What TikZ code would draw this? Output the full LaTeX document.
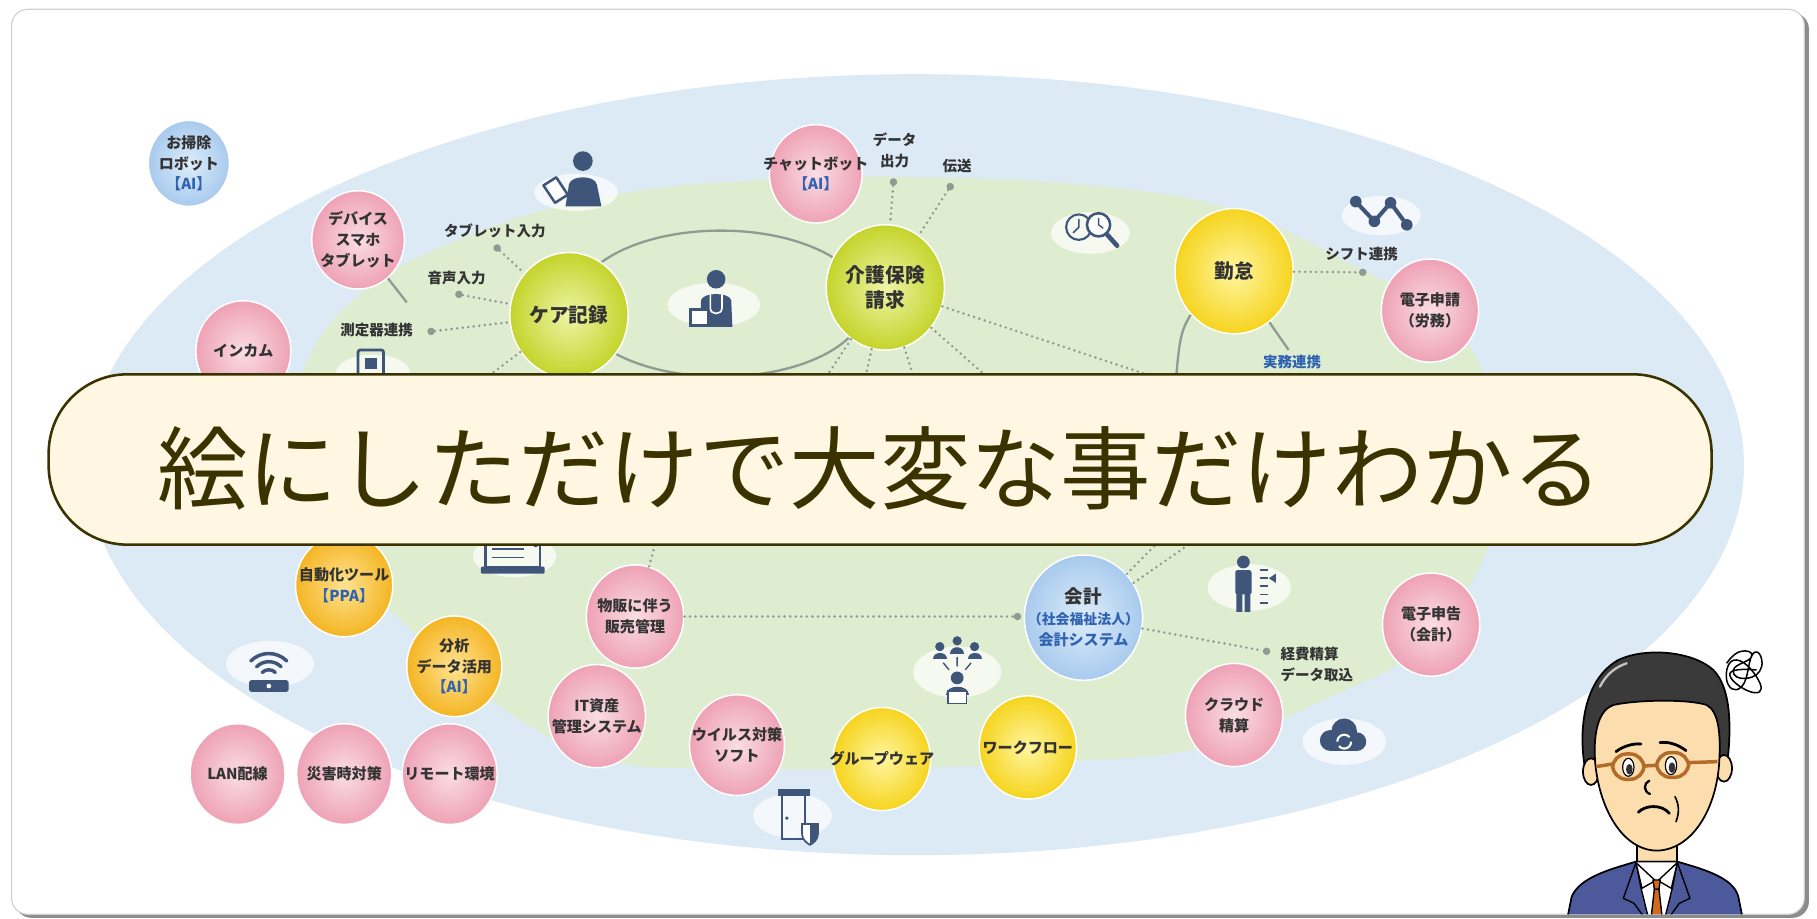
\documentclass[tikz,border=0pt]{standalone}
\usepackage{fontspec}
\setmainfont{Noto Sans CJK JP}
\usetikzlibrary{shapes.geometric}

\definecolor{bluefill}{HTML}{DCEAF6}
\definecolor{greenfill}{HTML}{DEEDD0}
\definecolor{iconc}{HTML}{3F557A}
\definecolor{linec}{HTML}{8E9C94}
\definecolor{dotc}{HTML}{8E9A92}
\definecolor{txt}{HTML}{333333}
\definecolor{aiblue}{HTML}{2F62B0}
\definecolor{pinkin}{HTML}{FADDE4}
\definecolor{pinkout}{HTML}{EEA2B5}
\definecolor{ygin}{HTML}{EEF4A6}
\definecolor{ygout}{HTML}{C4D42B}
\definecolor{yin}{HTML}{FFF6A0}
\definecolor{yout}{HTML}{F6D41E}
\definecolor{oin}{HTML}{FFE291}
\definecolor{oout}{HTML}{F4B523}
\definecolor{bin}{HTML}{DEEDFA}
\definecolor{bout}{HTML}{A8CAEE}
\definecolor{bannerfill}{HTML}{FFF7E2}
\definecolor{bannerline}{HTML}{3A3300}
\definecolor{skin}{HTML}{FCDDAE}
\definecolor{haircol}{HTML}{3A3A3A}
\definecolor{suitcol}{HTML}{4C5A9C}
\definecolor{tiecol}{HTML}{D2691E}
\definecolor{glasscol}{HTML}{B36B2A}

\tikzset{
  bub/.style={ellipse, inner sep=0pt, minimum width=#1*2pt, minimum height=#1*2.12pt,
    draw=white, line width=1.3pt},
  btext/.style={align=center, text=txt, inner sep=0pt,
    font=\fontsize{13}{18}\selectfont\bfseries},
  bigtext/.style={font=\fontsize{17}{22}\selectfont\bfseries},
  fpink/.style={inner color=pinkin, outer color=pinkout},
  fyg/.style={inner color=ygin, outer color=ygout},
  fyel/.style={inner color=yin, outer color=yout},
  forg/.style={inner color=oin, outer color=oout},
  fblue/.style={inner color=bin, outer color=bout},
  lbl/.style={text=txt, align=center, inner sep=1pt,
    font=\fontsize{12.5}{18}\selectfont\bfseries},
  dotnode/.style={circle, fill=dotc, minimum size=6.5pt, inner sep=0pt},
  dotline/.style={draw=dotc, line width=2.4pt, line cap=round, dash pattern=on 0pt off 4.8pt},
  solidline/.style={draw=linec, line width=2pt},
  halo/.style={fill=white, opacity=0.7},
  manline/.style={draw=black, line width=1.5pt, line join=round},
}

\begin{document}
\begin{tikzpicture}[x=1pt, y=-1pt]
\useasboundingbox (0,0) rectangle (1568,793);

% card with drop shadow
\fill[black!45, rounded corners=14pt] (13,11) rectangle (1561,792);
\fill[white, rounded corners=14pt] (10,8) rectangle (1557,789);
\draw[black!18, line width=1pt, rounded corners=14pt] (10,8) rectangle (1557,789);

\begin{scope}
\clip[rounded corners=14pt] (10,8) rectangle (1557,789);

% outer and inner zones
\fill[bluefill] (790,401) ellipse (715 and 337);
\fill[greenfill] plot[smooth cycle, tension=0.7] coordinates {
  (800,153) (940,160) (1060,180) (1170,230) (1255,282) (1290,360) (1290,450)
  (1262,515) (1225,562) (1140,605) (1040,645) (900,658) (760,663) (640,663)
  (530,658) (455,625) (390,575) (330,520) (275,465) (252,400) (262,320)
  (310,255) (400,205) (520,170) (660,155)};

% ring joining care records and billing
\draw[solidline] (622,262) ellipse (125 and 63);

% ---- icons ----
% tablet user
\fill[halo] (497,166) ellipse (36 and 16);
\fill[iconc] (503,139) circle (8.5);
\fill[iconc] (488,178) -- (491,159) .. controls (493,151) and (513,151) .. (515,159) -- (519,178) -- cycle;
\filldraw[fill=white, draw=iconc, line width=2.2pt, line join=round] (469,160) -- (480,153) -- (490,168) -- (479,175) -- cycle;
% doctor
\fill[halo] (616,263) ellipse (40 and 19);
\fill[iconc] (618,241) circle (8);
\fill[iconc] (604,282) -- (605,259) .. controls (607,252) and (629,252) .. (631,259) -- (632,282) -- cycle;
\draw[white, line width=1.4pt] (613,254) -- (613,266) .. controls (613,272) and (623,272) .. (623,266) -- (623,254);
\filldraw[fill=white, draw=iconc, line width=2pt] (596,267) rectangle (611,281);
% clock and magnifier
\fill[halo] (941,201) ellipse (34 and 18);
\draw[iconc, line width=1.8pt] (931,196) circle (11);
\draw[iconc, line width=1.4pt] (931,189) -- (931,196) -- (926,201);
\filldraw[fill=white, draw=iconc, line width=2.2pt] (948,194) circle (10);
\draw[iconc, line width=1.2pt] (948,188) -- (948,194) -- (952,197);
\draw[iconc, line width=4pt, line cap=round] (955,202) -- (964,212);
% network
\fill[halo] (1192,186) ellipse (34 and 17);
\draw[iconc, line width=3.5pt, line join=round] (1170,174) -- (1186,191) -- (1200,175) -- (1214,194);
\foreach \p in {(1170,174),(1186,191),(1200,175),(1214,194)} \fill[iconc] \p circle (5);
% measuring device
\fill[halo] (322,322) ellipse (32 and 16);
\draw[iconc, line width=2.4pt, rounded corners=2pt] (309,302) rectangle (331,335);
\fill[iconc] (315,309) rectangle (325,318);
% monitor
\fill[halo] (444,480) ellipse (36 and 18);
\draw[iconc, line width=2pt] (419,464) rectangle (466,489);
\draw[iconc, line width=1.5pt] (425,474) -- (452,474) (425,481) -- (452,481);
\fill[iconc, rounded corners=1pt] (415,489) rectangle (470,495);
\draw[iconc, line width=3pt, line cap=round] (462,471) -- (471,462);
% wifi router
\fill[halo] (233,573) ellipse (38 and 20);
\draw[iconc, line width=3pt, line cap=round] (226.3,580.3) arc[start angle=225, end angle=315, radius=8];
\draw[iconc, line width=3pt, line cap=round] (221.4,575.4) arc[start angle=225, end angle=315, radius=15];
\draw[iconc, line width=3pt, line cap=round] (216.4,570.4) arc[start angle=225, end angle=315, radius=22];
\fill[iconc, rounded corners=1.5pt] (215,587) rectangle (249,597);
\fill[white] (232,592) circle (2);
% door and shield
\fill[halo] (684,704) ellipse (34 and 19);
\draw[iconc, line width=1.8pt] (675,686) rectangle (695,724);
\fill[iconc] (671,681) rectangle (699,687);
\fill[iconc] (679,706) circle (1.6);
\filldraw[fill=white, draw=iconc, line width=1.5pt] (692,711) -- (706,711) -- (706,719) .. controls (706,725) and (701,728) .. (699,729) .. controls (697,728) and (692,725) .. (692,719) -- cycle;
\fill[iconc] (699,711) -- (706,711) -- (706,719) .. controls (706,725) and (701,728) .. (699,729) -- cycle;
% people network
\fill[halo] (826,580) ellipse (38 and 22);
\fill[iconc] (811,558) circle (4) (826,553) circle (4) (841,558) circle (4);
\fill[iconc] (805,569) .. controls (805,562) and (817,562) .. (817,569) -- cycle;
\fill[iconc] (820,564) .. controls (820,557) and (832,557) .. (832,564) -- cycle;
\fill[iconc] (835,569) .. controls (835,562) and (847,562) .. (847,569) -- cycle;
\draw[iconc, line width=1.2pt] (826,567) -- (826,575) (814,572) -- (819,578) (838,572) -- (833,578);
\fill[iconc] (826,585) circle (5.5);
\fill[iconc] (816,600) .. controls (816,590) and (836,590) .. (836,600) -- cycle;
\filldraw[fill=white, draw=iconc, line width=1.5pt] (818,596) rectangle (834,607);
% person with list
\fill[halo] (1078,507) ellipse (36 and 20);
\fill[iconc] (1073,485) circle (5.5);
\fill[iconc, rounded corners=1.5pt] (1066,492) rectangle (1080,513);
\fill[iconc] (1067,511) rectangle (1072,528) (1074,511) rectangle (1079,528);
\draw[iconc, line width=1.6pt] (1087,492) -- (1094,492) (1087,499) -- (1094,499) (1087,506) -- (1094,506) (1087,513) -- (1094,513) (1087,520) -- (1094,520);
\fill[iconc] (1095,499) -- (1101,495) -- (1101,503) -- cycle;
% cloud sync
\fill[halo] (1160,640) ellipse (36 and 20);
\fill[iconc] (1148,639) circle (9) (1160,631) circle (11) (1171,640) circle (8);
\fill[iconc] (1148,639) rectangle (1171,648);
\draw[white, line width=1.8pt] (1154,640) arc[start angle=180, end angle=320, radius=6];
\draw[white, line width=1.8pt] (1166,640) arc[start angle=0, end angle=140, radius=6];

% ---- topic bubbles (shape, then its caption) ----
\node[bub=35, fblue] (robot) at (163,141) {};
\node[btext] (robot-t) at (robot) {お掃除\\ロボット\\{\color{aiblue}【AI】}};
\node[bub=40, fpink] (device) at (309,207) {};
\node[btext] (device-t) at (device) {デバイス\\スマホ\\タブレット};
\node[bub=41, fpink] (incom) at (210,303) {};
\node[btext] (incom-t) at (incom) {インカム};
\node[bub=51, fyg] (care) at (491,272) {};
\node[btext, bigtext] (care-t) at (care) {ケア記録};
\node[bub=40, fpink] (chat) at (704,150) {};
\node[btext] (chat-t) at (chat) {チャットボット\\{\color{aiblue}【AI】}};
\node[bub=51, fyg] (kaigo) at (764,248) {};
\node[btext, bigtext] (kaigo-t) at (kaigo) {介護保険\\請求};
\node[bub=51, fyel] (kintai) at (1065,234) {};
\node[btext, bigtext] (kintai-t) at (kintai) {勤怠};
\node[bub=42, fpink] (shinsei) at (1234,268) {};
\node[btext] (shinsei-t) at (shinsei) {電子申請\\（労務）};
\node[bub=42, forg] (auto) at (297,505) {};
\node[btext] (auto-t) at (auto) {自動化ツール\\{\color{aiblue}【PPA】}};
\node[bub=41, forg] (bunseki) at (392,575) {};
\node[btext] (bunseki-t) at (bunseki) {分析\\データ活用\\{\color{aiblue}【AI】}};
\node[bub=41, fpink] (lan) at (205,668) {};
\node[btext] (lan-t) at (lan) {LAN配線};
\node[bub=41, fpink] (saigai) at (297,668) {};
\node[btext] (saigai-t) at (saigai) {災害時対策};
\node[bub=41, fpink] (remote) at (388,668) {};
\node[btext] (remote-t) at (remote) {リモート環境};
\node[bub=42, fpink] (buppan) at (548,532) {};
\node[btext] (buppan-t) at (buppan) {物販に伴う\\販売管理};
\node[bub=42, fpink] (itasset) at (515,618) {};
\node[btext] (itasset-t) at (itasset) {IT資産\\管理システム};
\node[bub=41, fpink] (virus) at (636,643) {};
\node[btext] (virus-t) at (virus) {ウイルス対策\\ソフト};
\node[bub=42, fyel] (groupware) at (761,655) {};
\node[btext] (groupware-t) at (groupware) {グループウェア};
\node[bub=42, fyel] (workflow) at (887,645) {};
\node[btext] (workflow-t) at (workflow) {ワークフロー};
\node[bub=51, fblue] (kaikei) at (935,533) {};
\node[btext] (kaikei-t) at (kaikei) {{\fontsize{16}{20}\selectfont 会計}\\{\color{aiblue}\fontsize{12}{17}\selectfont（社会福祉法人）}\\{\color{aiblue}会計システム}};
\node[bub=42, fpink] (shinkoku) at (1235,539) {};
\node[btext] (shinkoku-t) at (shinkoku) {電子申告\\（会計）};
\node[bub=42, fpink] (cloud) at (1065,617) {};
\node[btext] (cloud-t) at (cloud) {クラウド\\精算};

% ---- link terminals ----
\node[dotnode] (dTab) at (429,214) {};
\node[dotnode] (dVoice) at (396,254) {};
\node[dotnode] (dMeas) at (372,286) {};
\node[dotnode] (dData) at (771,157) {};
\node[dotnode] (dSend) at (820,161) {};
\node[dotnode] (dShift) at (1176,235) {};
\node[dotnode] (dSales) at (878,532) {};
\node[dotnode] (dKeihi) at (1093,562) {};

% ends of links running behind the headline
\coordinate (hCare) at (372,362);
\coordinate (hK1) at (690,360);
\coordinate (hK2) at (738,365);
\coordinate (hK3) at (800,362);
\coordinate (hK4) at (880,350);
\coordinate (hK5) at (1070,350);
\coordinate (hSales) at (585,400);
\coordinate (hAcc1) at (1027,440);
\coordinate (hAcc2) at (1069,440);
\coordinate (hKin) at (1010,400);
\coordinate (cDev) at (351,261);
\coordinate (cJitsu) at (1112,302);

% ---- links ----
\draw[dotline] (dTab) -- (care);
\draw[dotline] (dVoice) -- (care);
\draw[dotline] (dMeas) -- (care);
\draw[dotline] (care) -- (hCare);
\draw[dotline] (dData) -- (kaigo);
\draw[dotline] (dSend) -- (kaigo);
\draw[dotline] (kaigo) -- (hK1);
\draw[dotline] (kaigo) -- (hK2);
\draw[dotline] (kaigo) -- (hK3);
\draw[dotline] (kaigo) -- (hK4);
\draw[dotline] (kaigo) -- (hK5);
\draw[dotline] (kintai) -- (dShift);
\draw[dotline] (buppan) -- (dSales);
\draw[dotline] (buppan) -- (hSales);
\draw[dotline] (kaikei) -- (dKeihi);
\draw[dotline] (kaikei) -- (hAcc1);
\draw[dotline] (kaikei) -- (hAcc2);
\draw[solidline] (device) -- (cDev);
\draw[solidline] (kintai) -- (cJitsu);
\draw[solidline] (kintai.225) .. controls (1017,290) .. (hKin);

% ---- free labels ----
\node[lbl] (tTab) at (427,199) {タブレット入力};
\node[lbl] (tVoice) at (394,240) {音声入力};
\node[lbl] (tMeas) at (325,285) {測定器連携};
\node[lbl] (tData) at (772,130) {データ\\出力};
\node[lbl] (tSend) at (826,143) {伝送};
\node[lbl] (tShift) at (1175,219) {シフト連携};
\node[lbl, text=aiblue] (tJitsu) at (1115,312) {実務連携};
\node[lbl, anchor=west, align=left] (tKeihi) at (1104,573) {経費精算\\データ取込};

% ---- headline ----
\node[draw=bannerline, fill=bannerfill, line width=2.2pt, rounded corners=68pt,
      minimum width=1435pt, minimum height=147pt, inner sep=0pt] (banner) at (759.5,396.5) {};
\node[text=bannerline, font=\fontsize{78}{80}\selectfont, inner sep=0pt] (title) at (759.5,404) {絵にしただけで大変な事だけわかる};

% ---- worried man ----
\begin{scope}[shift={(1346.2,535)}, scale=0.28765]
  % neck and suit
  \filldraw[fill=skin, manline] (230,640) rectangle (350,770);
  \filldraw[fill=suitcol, manline] (20,905) -- (35,830) .. controls (60,772) and (150,748) .. (228,725) -- (352,725) .. controls (430,748) and (520,772) .. (535,830) -- (550,905) -- cycle;
  \filldraw[fill=white, manline, line width=1.2pt] (228,725) -- (352,725) -- (338,800) -- (312,905) -- (268,905) -- (242,800) -- cycle;
  \filldraw[fill=white, manline, line width=1.2pt] (228,728) -- (286,782) -- (246,805) -- cycle;
  \filldraw[fill=white, manline, line width=1.2pt] (352,728) -- (294,782) -- (334,805) -- cycle;
  \filldraw[fill=tiecol, manline, line width=1.2pt] (279,780) -- (301,780) -- (297,808) -- (283,808) -- cycle;
  \filldraw[fill=tiecol, manline, line width=1.2pt] (283,808) -- (297,808) -- (308,905) -- (272,905) -- cycle;
  \draw[manline, line width=1.2pt] (228,728) -- (190,835) -- (222,850) -- (262,905);
  \draw[manline, line width=1.2pt] (352,728) -- (390,835) -- (358,850) -- (318,905);
  % hair
  \filldraw[fill=haircol, manline] (75,445) .. controls (55,330) and (70,180) .. (175,120) .. controls (260,80) and (400,95) .. (460,150) .. controls (515,205) and (515,330) .. (500,445) -- cycle;
  \draw[white!70!haircol, line width=2pt, line cap=round] (120,200) .. controls (140,160) and (170,140) .. (200,130);
  % ears
  \filldraw[fill=skin, manline] (93,455) ellipse (24 and 40);
  \filldraw[fill=skin, manline] (492,445) ellipse (24 and 40);
  % face
  \filldraw[fill=skin, manline] (105,420) .. controls (100,330) and (118,270) .. (160,255) .. controls (240,238) and (390,238) .. (440,255) .. controls (478,275) and (482,350) .. (478,420) .. controls (472,560) and (400,690) .. (290,692) .. controls (185,690) and (115,560) .. (105,420) -- cycle;
  % eyes
  \filldraw[fill=white, draw=black, line width=1pt] (205,442) ellipse (17 and 27);
  \filldraw[fill=white, draw=black, line width=1pt] (333,437) ellipse (17 and 27);
  \fill[black!80] (208,448) ellipse (10 and 16);
  \fill[black!80] (336,443) ellipse (10 and 16);
  % glasses
  \draw[glasscol, line width=3pt, rounded corners=12pt] (158,402) rectangle (252,478);
  \draw[glasscol, line width=3pt, rounded corners=12pt] (290,398) rectangle (386,472);
  \draw[glasscol, line width=3pt] (252,438) -- (290,436);
  \draw[glasscol, line width=3pt] (158,432) -- (108,440);
  \draw[glasscol, line width=3pt] (386,428) -- (472,425);
  % brows, nose, mouth
  \draw[black, line width=2.4pt, line cap=round] (168,395) .. controls (190,378) and (220,370) .. (243,372);
  \draw[black, line width=2.4pt, line cap=round] (300,368) .. controls (325,364) and (355,374) .. (378,392);
  \draw[black, line width=2pt, line cap=round] (268,482) .. controls (250,490) and (250,515) .. (270,522);
  \draw[black, line width=2.4pt, line cap=round] (235,577) .. controls (255,555) and (305,552) .. (328,580);
  \draw[black, line width=1.4pt, line cap=round] (345,530) .. controls (358,555) and (358,580) .. (348,605);
  % scribble of worry
  \draw[black, line width=1.3pt, line join=round] plot[smooth, tension=1] coordinates {
    (500,130) (540,95) (575,110) (520,150) (560,175) (605,140) (580,100)
    (545,200) (500,180) (530,120) (600,190) (570,215) (510,160) (590,150)};
\end{scope}
\end{scope}
\end{tikzpicture}
\end{document}
